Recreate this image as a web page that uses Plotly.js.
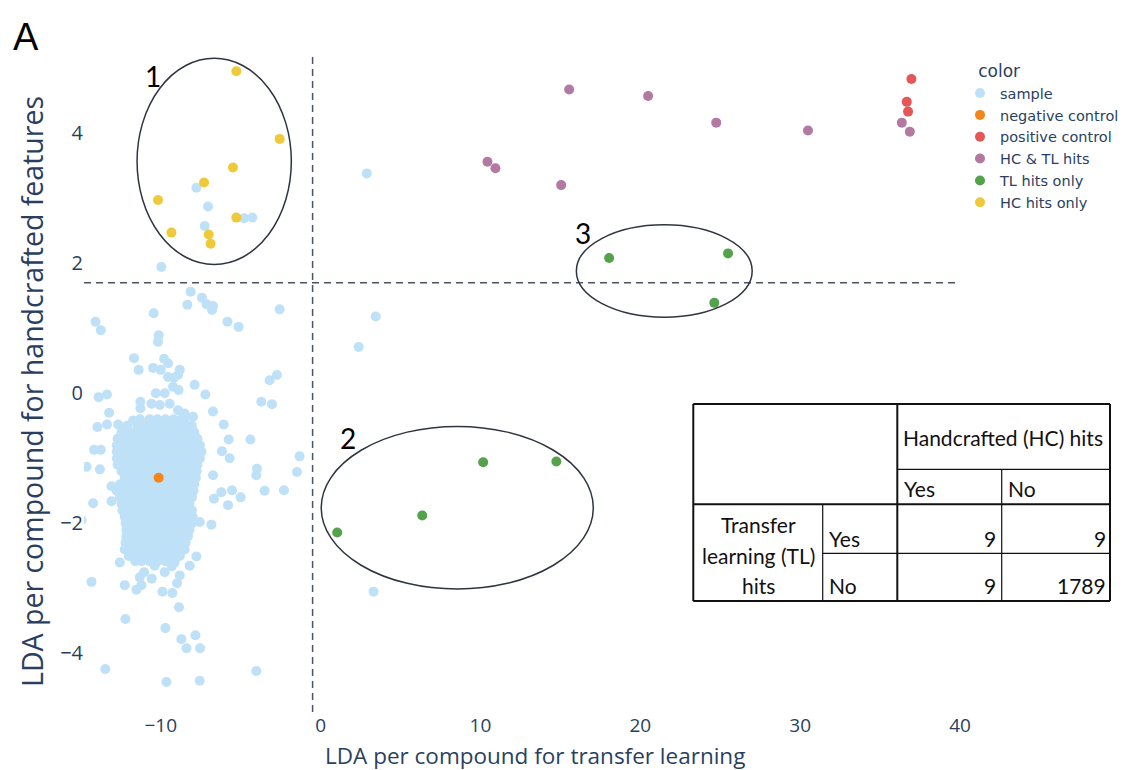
<!DOCTYPE html>
<html><head><meta charset="utf-8">
<script src="https://cdn.plot.ly/plotly-3.0.1.min.js"></script>
<style>html,body{margin:0;padding:0;background:#fff;}#chart{width:1133px;height:770px;}</style>
</head><body><div id="chart"></div>
<script>
// ---------------- data ----------------
const categories = ['sample', 'negative control', 'positive control', 'HC & TL hits', 'TL hits only', 'HC hits only'];
const categoryColors = ['#bee1f8', '#F58518', '#E45756', '#B279A2', '#54A24B', '#EECA3B'];

// isolated sample points [x, y]
const sampleOuter = [
  [-8.13,1.56],[-7.42,1.47],[-8.33,1.36],[-7.14,1.37],[-6.79,1.28],[-6.73,1.34],[-10.44,1.23],[-14.08,1.10],
  [-13.75,0.97],[-5.83,1.10],[-5.13,1.02],[-2.56,1.29],[-10.13,0.89],[-10.17,0.79],[-11.67,0.54],[-11.38,0.36],
  [-10.48,0.39],[-10.0,0.36],[-9.79,0.53],[-9.54,0.46],[-8.81,0.36],[-8.92,0.28],[-9.54,0.25],[-9.17,0.24],
  [-7.88,0.13],[-3.19,0.20],[-2.73,0.28],[-13.88,-0.06],[-13.36,-0.02],[-13.23,-0.30],[-11.27,-0.13],[-11.27,-0.23],
  [-10.31,0.0],[-9.75,0.0],[-9.23,0.10],[-8.88,0.05],[-7.21,-0.02],[-6.73,-0.28],[-3.71,-0.13],[-3.04,-0.17],
  [-13.96,-0.52],[-13.36,-0.48],[-12.67,-0.48],[-6.06,-0.48],[-5.75,-0.71],[-6.17,-0.89],[-5.69,-1.0],[-4.39,-0.71],
  [-14.17,-0.87],[-13.75,-0.87],[-14.64,-1.13],[-13.81,-1.17],[-1.31,-0.97],[-1.48,-1.21],[-3.98,-1.16],[-4.02,-1.26],
  [-6.73,-1.26],[-3.5,-1.50],[-2.29,-1.49],[-6.21,-1.52],[-5.54,-1.49],[-5.0,-1.60],[-6.67,-1.62],[-5.79,-1.72],
  [-13.08,-1.43],[-14.23,-1.69],[-13.08,-1.66],[-14.96,-1.95],[-6.83,-2.02],[-7.56,-1.98],[-12.56,-2.60],[-14.33,-2.90],
  [-12.25,-2.95],[-11.52,-3.02],[-11.21,-2.95],[-11.04,-2.75],[-11.31,-2.83],[-9.89,-3.05],[-9.27,-3.07],[-8.98,-2.92],
  [-8.19,-2.65],[-7.77,-2.51],[-9.13,-2.60],[-8.86,-3.29],[-12.21,-3.47],[-9.71,-3.61],[-8.71,-3.78],[-8.39,-3.92],
  [-7.83,-3.72],[-7.54,-3.92],[-13.47,-4.24],[-9.64,-4.44],[-7.56,-4.42],[-4.02,-4.27],
  [2.89,3.38],[3.45,1.18],[2.38,0.71],[3.31,-3.05],
  [-7.77,3.16],[-7.04,2.87],[-7.25,2.57],[-4.79,2.69],[-4.27,2.70],[-9.96,1.94],
  [-10.58,-0.16],[-10.06,-0.18],[-9.44,-0.16],[-8.92,-0.26],[-8.5,-0.31],[-7.98,-0.36],[-11.73,-0.42],
  [-10.38,-2.65],[-9.75,-2.75],[-9.31,-2.66],[-10.56,-2.85],[-8.81,-2.8]
];

// dense core of the sample cloud, read row by row: [y, [x ...]]
const sampleCoreRows = [
  [-0.40, [-11.3,-10.7,-10.2,-9.7,-9.2,-8.7,-8.5]],
  [-0.50, [-12.1,-11.45,-10.95,-10.45,-9.95,-9.45,-8.95,-8.45,-8.05]],
  [-0.60, [-12.45,-12.2,-11.7,-11.2,-10.7,-10.2,-9.7,-9.2,-8.7,-8.2,-7.9]],
  [-0.70, [-12.7,-12.45,-11.95,-11.45,-10.95,-10.45,-9.95,-9.45,-8.95,-8.45,-7.95,-7.7]],
  [-0.80, [-12.75,-12.2,-11.7,-11.2,-10.7,-10.2,-9.7,-9.2,-8.7,-8.2,-7.7,-7.55]],
  [-0.90, [-12.75,-12.45,-11.95,-11.45,-10.95,-10.45,-9.95,-9.45,-8.95,-8.45,-7.95,-7.45]],
  [-1.00, [-12.75,-12.2,-11.7,-11.2,-10.7,-10.2,-9.7,-9.2,-8.7,-8.2,-7.7,-7.55]],
  [-1.10, [-12.7,-12.45,-11.95,-11.45,-10.95,-10.45,-9.95,-9.45,-8.95,-8.45,-7.95,-7.7]],
  [-1.20, [-12.45,-12.2,-11.7,-11.2,-10.7,-10.2,-9.7,-9.2,-8.7,-8.2,-7.75]],
  [-1.30, [-12.25,-11.95,-11.45,-10.95,-10.45,-9.95,-9.45,-8.95,-8.45,-7.95,-7.8]],
  [-1.40, [-12.55,-12.2,-11.7,-11.2,-10.7,-10.2,-9.7,-9.2,-8.7,-8.2,-7.9]],
  [-1.50, [-12.75,-12.45,-11.95,-11.45,-10.95,-10.45,-9.95,-9.45,-8.95,-8.45,-7.95]],
  [-1.60, [-12.55,-12.2,-11.7,-11.2,-10.7,-10.2,-9.7,-9.2,-8.7,-8.2,-8.05]],
  [-1.70, [-12.45,-11.95,-11.45,-10.95,-10.45,-9.95,-9.45,-8.95,-8.45,-8.2]],
  [-1.80, [-12.4,-12.2,-11.7,-11.2,-10.7,-10.2,-9.7,-9.2,-8.7,-8.2,-8.05]],
  [-1.90, [-12.25,-11.95,-11.45,-10.95,-10.45,-9.95,-9.45,-8.95,-8.45,-8.0]],
  [-2.00, [-12.2,-11.7,-11.2,-10.7,-10.2,-9.7,-9.2,-8.7,-8.2,-8.05]],
  [-2.10, [-12.15,-11.95,-11.45,-10.95,-10.45,-9.95,-9.45,-8.95,-8.45,-8.2]],
  [-2.20, [-12.15,-11.7,-11.2,-10.7,-10.2,-9.7,-9.2,-8.7,-8.3]],
  [-2.30, [-12.2,-11.95,-11.45,-10.95,-10.45,-9.95,-9.45,-8.95,-8.45]],
  [-2.40, [-12.25,-11.7,-11.2,-10.7,-10.2,-9.7,-9.2,-8.7,-8.5]],
  [-2.50, [-12.0,-11.45,-10.95,-10.45,-9.95,-9.45,-8.95,-8.8]],
  [-2.58, [-11.6,-11.2,-10.7,-10.2,-9.7,-9.25]]
];

const negativeControl = [[-10.13,-1.30]];
const positiveControl = [[36.96,4.83],[36.67,4.48],[36.75,4.33]];
const hcTlHits = [[15.55,4.67],[20.49,4.57],[24.75,4.16],[30.49,4.04],[36.36,4.16],[36.86,4.02],[10.44,3.56],[10.94,3.46],[15.05,3.20]];
const tlHitsOnly = [[18.05,2.08],[25.49,2.15],[24.63,1.39],[1.04,-2.14],[6.36,-1.88],[10.17,-1.06],[14.75,-1.05]];
const hcHitsOnly = [[-5.27,4.95],[-2.56,3.91],[-5.48,3.47],[-7.29,3.24],[-10.17,2.97],[-5.27,2.70],[-9.33,2.47],[-7.0,2.44],[-6.88,2.30]];

const xTickVals = [-10, 0, 10, 20, 30, 40];
const yTickVals = [-4, -2, 0, 2, 4];
const xThreshold = -0.5;
const yThreshold = 1.7;

const xTitle = 'LDA per compound for transfer learning';
const yTitle = 'LDA per compound for handcrafted features';
const legendTitle = 'color';
const tableHeader = 'Handcrafted (HC) hits';
const tableColLabels = ['Yes', 'No'];
const tableRowTitle = ['Transfer', 'learning (TL)', 'hits'];
const tableRowLabels = ['Yes', 'No'];
const tableCounts = [[9, 9], [9, 1789]];
const clusterLabels = ['1', '2', '3'];
const panelLabel = 'A';

// ---------------- build ----------------
const sampleX = [], sampleY = [];
sampleOuter.forEach(p => { sampleX.push(p[0]); sampleY.push(p[1]); });
sampleCoreRows.forEach(r => r[1].forEach(x => { sampleX.push(x); sampleY.push(r[0]); }));

const groups = [
  {x: sampleX, y: sampleY},
  {x: negativeControl.map(p => p[0]), y: negativeControl.map(p => p[1])},
  {x: positiveControl.map(p => p[0]), y: positiveControl.map(p => p[1])},
  {x: hcTlHits.map(p => p[0]), y: hcTlHits.map(p => p[1])},
  {x: tlHitsOnly.map(p => p[0]), y: tlHitsOnly.map(p => p[1])},
  {x: hcHitsOnly.map(p => p[0]), y: hcHitsOnly.map(p => p[1])}
];
const traces = groups.map((g, i) => ({
  type: 'scatter', mode: 'markers', name: categories[i], x: g.x, y: g.y,
  marker: {color: categoryColors[i], size: 10, line: {width: 0}}, hoverinfo: 'skip'
}));

// page geometry
const W = 1133, H = 770, ML = 84, MR = 173, MT = 55, MB = 58;
const PW = W - ML - MR, PH = H - MT - MB;
const px = v => (v - ML) / PW;          // pixel x -> paper
const py = v => (H - MB - v) / PH;      // pixel y -> paper

const shapes = [];
const dashLine = {color: '#4b5261', width: 1.5, dash: '7px,5px'};
shapes.push({type: 'line', xref: 'x', yref: 'paper', x0: xThreshold, x1: xThreshold, y0: 0, y1: 1, line: dashLine});
shapes.push({type: 'line', xref: 'paper', yref: 'y', x0: 0, x1: 1, y0: yThreshold, y1: yThreshold, line: dashLine});
const ell = {color: '#2e3440', width: 1.5};
shapes.push({type: 'circle', xref: 'x', yref: 'y', x0: -11.48, x1: -1.83, y0: 1.98, y1: 5.15, line: ell});
shapes.push({type: 'circle', xref: 'x', yref: 'y', x0: 0.04, x1: 17.06, y0: -3.01, y1: -0.51, line: ell});
shapes.push({type: 'circle', xref: 'x', yref: 'y', x0: 16.0, x1: 27.0, y0: 1.17, y1: 2.59, line: ell});

// table grid
function seg(x0, y0, x1, y1, w) {
  shapes.push({type: 'line', xref: 'paper', yref: 'paper', x0: px(x0), x1: px(x1), y0: py(y0), y1: py(y1), line: {color: '#111', width: w}});
}
const TL = 693.3, TR = 1110, TT = 404, TB = 601;
seg(TL, TT, TR, TT, 2); seg(TL, TB, TR, TB, 2); seg(TL, TT, TL, TB, 2); seg(TR, TT, TR, TB, 2);
seg(897.3, TT, 897.3, TB, 2);
seg(TL, 504.3, TR, 504.3, 2);
seg(897.3, 469.3, TR, 469.3, 1.2);
seg(1001.7, 469.3, 1001.7, TB, 1.2);
seg(822.7, 504.3, 822.7, TB, 1.2);
seg(822.7, 553.3, TR, 553.3, 1.2);

const annotations = [];
const tfont = {family: 'Lato, Carlito, sans-serif', size: 21, color: '#111'};
function txt(t, x, y, xa, font, angle) {
  annotations.push({text: t, xref: 'paper', yref: 'paper', x: px(x), y: py(y), xanchor: xa, yanchor: 'middle',
                    showarrow: false, font: font || tfont, textangle: angle || 0});
}
txt(tableHeader, 1003.5, 437, 'center');
txt(tableColLabels[0], 902, 488, 'left');
txt(tableColLabels[1], 1006, 488, 'left');
txt(tableRowTitle[0], 758, 524, 'center');
txt(tableRowTitle[1], 758, 555, 'center');
txt(tableRowTitle[2], 758, 585, 'center');
txt(tableRowLabels[0], 827, 538, 'left');
txt(tableRowLabels[1], 827, 585, 'left');
txt(String(tableCounts[0][0]), 998, 538, 'right');
txt(String(tableCounts[0][1]), 1108, 538, 'right');
txt(String(tableCounts[1][0]), 998, 585, 'right');
txt(String(tableCounts[1][1]), 1108, 585, 'right');
txt(panelLabel, 26, 37, 'center', {family: 'Liberation Sans, Arial, sans-serif', size: 38, color: '#000'});
// axis titles
txt(xTitle, 535, 755, 'center', {family: 'Open Sans, sans-serif', size: 22.5, color: '#2a3f5f'});
txt(yTitle, 32, 392, 'center', {family: 'Open Sans, sans-serif', size: 28.5, color: '#2a3f5f'}, -90);

const lfont = {family: 'Lato, sans-serif', size: 28, color: '#000'};
[[-10.5, 4.87], [1.69, -0.69], [16.44, 2.46]].forEach((p, i) => {
  annotations.push({text: clusterLabels[i], xref: 'x', yref: 'y', x: p[0], y: p[1], showarrow: false, font: lfont, xanchor: 'center', yanchor: 'middle'});
});

const layout = {
  width: W, height: H,
  margin: {l: ML, r: MR, t: MT, b: MB, autoexpand: false},
  paper_bgcolor: '#fff', plot_bgcolor: '#fff',
  font: {family: 'Open Sans, sans-serif', color: '#2a3f5f'},
  showlegend: true,
  xaxis: {range: [-14.8, 40], tickmode: 'array', tickvals: xTickVals, showgrid: false, zeroline: false, showline: false, ticks: '', ticklen: 0,
          tickfont: {size: 19}, automargin: false},
  yaxis: {range: [-4.9, 5.2], tickmode: 'array', tickvals: yTickVals, showgrid: false, zeroline: false, showline: false, ticks: '',
          tickfont: {size: 20}, automargin: false},
  legend: {title: {text: '\u00a0\u00a0\u00a0' + legendTitle}, font: {family: 'DejaVu Sans, sans-serif', size: 14.5, color: '#2a3f5f'},
           x: 1.0, y: 1, xanchor: 'left', yanchor: 'top', tracegroupgap: 0},
  shapes: shapes, annotations: annotations
};
Plotly.newPlot('chart', traces, layout, {staticPlot: true, displayModeBar: false});
</script></body></html>
